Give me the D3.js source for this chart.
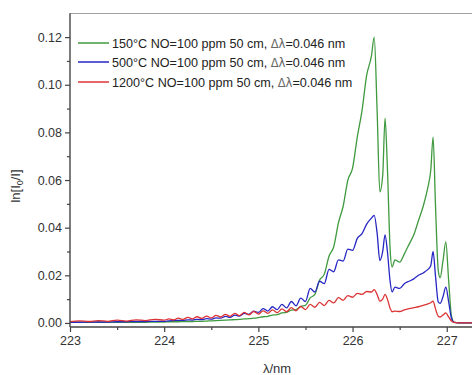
<!DOCTYPE html>
<html><head><meta charset="utf-8">
<script src="https://cdn.jsdelivr.net/npm/d3@7"></script>
<style>body{margin:0;background:#fff}svg{display:block}text{font-family:"Liberation Sans",Arial,sans-serif}</style>
</head><body><svg id="c" width="472" height="375"></svg>
<script>
const wavelengths = [223.00,223.10,223.20,223.30,223.40,223.50,223.60,223.70,223.80,223.90,224.00,
224.05,224.10,224.15,224.20,224.25,224.30,224.35,224.40,224.45,224.50,224.55,224.60,224.65,224.70,224.75,224.80,224.85,224.90,224.95,225.00,
225.05,225.10,225.15,225.20,225.25,225.30,225.35,225.40,225.45,225.50,225.55,225.60,225.65,225.70,225.75,225.80,225.85,225.90,225.95,226.00,
226.05,226.10,226.15,226.20,226.23,226.26,226.29,226.32,226.345,226.37,226.40,226.42,226.45,226.50,226.55,226.60,226.65,226.70,226.75,226.80,
226.83,226.855,226.88,226.91,226.93,226.96,226.99,227.02,227.05,227.08,227.12,227.20,227.30];
const green150 = [0.0002,0.0002,0.0002,0.0003,0.0002,0.0003,0.0003,0.0003,0.0003,0.0004,0.0004,
0.0005,0.0005,0.0005,0.0006,0.0006,0.0006,0.0007,0.0007,0.0008,0.0009,0.0010,0.0011,0.0012,0.0013,0.0014,0.0015,0.0017,0.0018,0.0020,0.0022,
0.0026,0.0028,0.0033,0.0035,0.0042,0.0044,0.0054,0.0056,0.0070,0.0074,0.0105,0.0120,0.0180,0.0205,0.0280,0.0320,0.0420,0.0490,0.0600,0.0650,
0.0780,0.0890,0.1040,0.1120,0.1200,0.0900,0.0550,0.0620,0.0860,0.0650,0.0300,0.0235,0.0265,0.0255,0.0290,0.0330,0.0370,0.0430,0.0490,0.0570,
0.0640,0.0780,0.0500,0.0220,0.0190,0.0260,0.0340,0.0180,0.0030,0.0002,0.0000,0.0000,0.0000];
const blue500 = [0.0003,0.0003,0.0004,0.0004,0.0004,0.0005,0.0005,0.0006,0.0006,0.0007,0.0007,
0.0009,0.0010,0.0011,0.0011,0.0013,0.0012,0.0015,0.0014,0.0018,0.0016,0.0021,0.0020,0.0028,0.0024,0.0033,0.0029,0.0040,0.0036,0.0050,0.0044,
0.0060,0.0050,0.0068,0.0056,0.0078,0.0063,0.0090,0.0072,0.0104,0.0090,0.0145,0.0130,0.0175,0.0165,0.0225,0.0215,0.0265,0.0260,0.0310,0.0305,
0.0355,0.0375,0.0415,0.0440,0.0452,0.0380,0.0262,0.0300,0.0370,0.0300,0.0170,0.0130,0.0150,0.0145,0.0165,0.0175,0.0185,0.0200,0.0210,0.0225,
0.0240,0.0300,0.0200,0.0088,0.0082,0.0110,0.0150,0.0090,0.0020,0.0002,0.0000,0.0000,0.0000];
const red1200 = [0.0006,0.0009,0.0006,0.0010,0.0007,0.0012,0.0008,0.0013,0.0010,0.0015,0.0012,
0.0017,0.0013,0.0020,0.0015,0.0023,0.0017,0.0026,0.0019,0.0029,0.0021,0.0032,0.0025,0.0036,0.0028,0.0040,0.0031,0.0044,0.0034,0.0048,0.0037,
0.0051,0.0040,0.0055,0.0043,0.0059,0.0047,0.0064,0.0051,0.0069,0.0056,0.0078,0.0066,0.0086,0.0073,0.0095,0.0084,0.0106,0.0095,0.0115,0.0108,
0.0124,0.0120,0.0132,0.0130,0.0140,0.0120,0.0092,0.0100,0.0120,0.0100,0.0060,0.0047,0.0050,0.0048,0.0055,0.0060,0.0064,0.0068,0.0074,0.0080,
0.0085,0.0092,0.0060,0.0028,0.0025,0.0033,0.0042,0.0025,0.0008,0.0002,0.0000,0.0000,0.0000];
const seriesNames = ["150\u00B0C NO=100 ppm 50 cm, ","500\u00B0C NO=100 ppm 50 cm, ","1200\u00B0C NO=100 ppm 50 cm, "];
const seriesColors = ["#3f9a3f","#2727c4","#dc3434"];
const xTicks = [223,224,225,226,227];
const xMinor = [223.5,224.5,225.5,226.5,227.5];
const yTicks = [0.00,0.02,0.04,0.06,0.08,0.10,0.12];
const yMinor = [0.01,0.03,0.05,0.07,0.09,0.11];

const svg = d3.select("#c");
const x = d3.scaleLinear().domain([223,227.3]).range([70,475]);
const y = d3.scaleLinear().domain([-0.0017,0.13]).range([327,13.3]);
const allSeries = [green150, blue500, red1200];

const line = d3.line().x((d,i)=>x(wavelengths[i])).y(d=>y(d)).curve(d3.curveMonotoneX);
[0,1,2].forEach(k=>{
  svg.append("path").datum(allSeries[k]).attr("d",line)
    .attr("fill","none").attr("stroke",seriesColors[k]).attr("stroke-width",1.3).attr("stroke-linejoin","round");
});

// frame top
svg.append("line").attr("x1",70).attr("x2",472).attr("y1",13.5).attr("y2",13.5).attr("stroke","#a0a0a0").attr("stroke-width",1);

// axes
const yAxis = svg.append("g").attr("transform","translate(70,0)")
  .call(d3.axisLeft(y).tickValues(yTicks).tickFormat(d3.format(".2f")).tickSize(5).tickPadding(3));
svg.append("g").attr("transform","translate(70,0)")
  .call(d3.axisLeft(y).tickValues(yMinor).tickFormat("").tickSize(3)).select(".domain").remove();
const xAxis = svg.append("g").attr("transform","translate(0,327)")
  .call(d3.axisBottom(x).tickValues(xTicks).tickFormat(d3.format("d")).tickSize(5).tickPadding(4));
svg.append("g").attr("transform","translate(0,327)")
  .call(d3.axisBottom(x).tickValues(xMinor).tickFormat("").tickSize(3)).select(".domain").remove();
svg.selectAll(".domain").attr("stroke","#444").attr("stroke-width",1.4);
svg.selectAll(".tick line").attr("stroke","#444").attr("stroke-width",1.2);
svg.selectAll(".tick text").attr("fill","#333").style("font-size","12.5px").style("font-family","'Liberation Sans',Arial,sans-serif");
yAxis.select(".domain").attr("d","M0,13.3V327");
xAxis.select(".domain").attr("d","M70,0H475");

// legend
const ly = [43,62,82];
seriesNames.forEach((n,k)=>{
  svg.append("line").attr("x1",78).attr("x2",109).attr("y1",ly[k]).attr("y2",ly[k])
    .attr("stroke",seriesColors[k]).attr("stroke-width",1.5);
  const t = svg.append("text").attr("x",112).attr("y",ly[k]+4.5).attr("fill","#222").style("font-size","12.6px");
  t.append("tspan").text(n);
  t.append("tspan").text("\u0394\u03BB").style("font-family","'DejaVu Sans',sans-serif").style("font-size","11.5px").attr("fill","#666");
  t.append("tspan").text("=0.046 nm");
});

// axis titles
svg.append("text").attr("x",277).attr("y",373).attr("text-anchor","middle").attr("fill","#333").style("font-size","13px")
  .text("\u03BB/nm");
const yl = svg.append("text").attr("transform","translate(20,186) rotate(-90)").attr("text-anchor","middle").attr("fill","#333").style("font-size","13px");
yl.append("tspan").text("ln[I");
yl.append("tspan").text("0").attr("baseline-shift","-30%").style("font-size","9px");
yl.append("tspan").text("/I]");
</script></body></html>
